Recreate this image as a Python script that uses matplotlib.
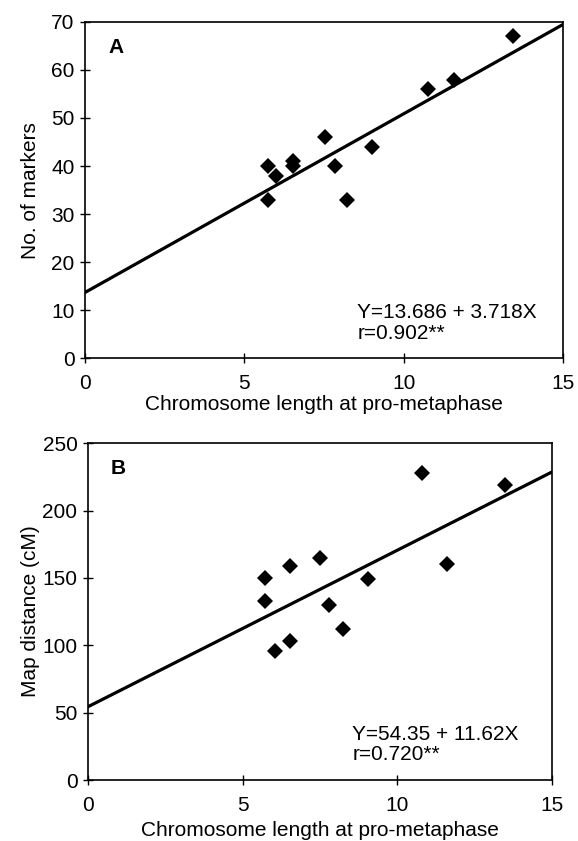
import matplotlib
matplotlib.use("Agg")
import matplotlib.pyplot as plt
import numpy as np

plt.rcParams["font.family"] = ["Liberation Sans", "DejaVu Sans"]

# Panel A: chromosome length vs number of markers
length_a = [5.73, 5.73, 6.01, 6.54, 6.54, 7.53, 7.84, 8.21, 9.01, 10.78, 11.59, 13.44]
markers_a = [40, 33, 38, 41, 40, 46, 40, 33, 44, 56, 58, 67]
fit_a = (13.686, 3.718)

# Panel B: chromosome length vs map distance
length_b = [5.74, 5.74, 6.06, 6.52, 6.52, 7.5, 7.8, 8.26, 9.04, 10.8, 11.6, 13.48]
distance_b = [150, 133, 96, 159, 103, 165, 130, 112, 149, 228, 160, 219]
fit_b = (54.35, 11.62)

FS = 15

fig = plt.figure(figsize=(5.78, 8.41), dpi=100)
ax_a = fig.add_axes([0.147, 0.574, 0.827, 0.4])
ax_b = fig.add_axes([0.152, 0.0725, 0.803, 0.4005])


def draw_panel(ax, x, y, fit, ymax, ystep, ylabel, letter, eq, r_text, xpad, ypad):
    xs = np.array([0, 15])
    ax.plot(xs, fit[0] + fit[1] * xs, color="black", lw=2.3, zorder=2)
    ax.plot(x, y, "D", color="black", ms=8, mew=0, zorder=3)
    ax.set_xlim(0, 15)
    ax.set_ylim(0, ymax)
    ax.set_xticks([0, 5, 10, 15])
    ax.set_yticks(np.arange(0, ymax + 1, ystep))
    ax.tick_params(direction="inout", length=7, width=1, labelsize=FS, pad=4)
    ax.tick_params(axis="x", pad=8)
    for s in ax.spines.values():
        s.set_linewidth(1.2)
    ax.set_xlabel("Chromosome length at pro-metaphase", fontsize=FS, labelpad=xpad)
    ax.set_ylabel(ylabel, fontsize=FS, labelpad=ypad)
    ax.text(0.05, 0.925, letter, transform=ax.transAxes, fontsize=FS,
            fontweight="bold", va="center")
    ax.text(0.57, 0.135, eq, transform=ax.transAxes, fontsize=FS, va="center")
    ax.text(0.57, 0.075, r_text, transform=ax.transAxes, fontsize=FS, va="center")


draw_panel(ax_a, length_a, markers_a, fit_a, 70, 10, "No. of markers", "A",
           "Y=13.686 + 3.718X", "r=0.902**", 1, 8)
draw_panel(ax_b, length_b, distance_b, fit_b, 250, 50, "Map distance (cM)", "B",
           "Y=54.35 + 11.62X", "r=0.720**", 4, 2)

fig.savefig("out.png", dpi=100)
